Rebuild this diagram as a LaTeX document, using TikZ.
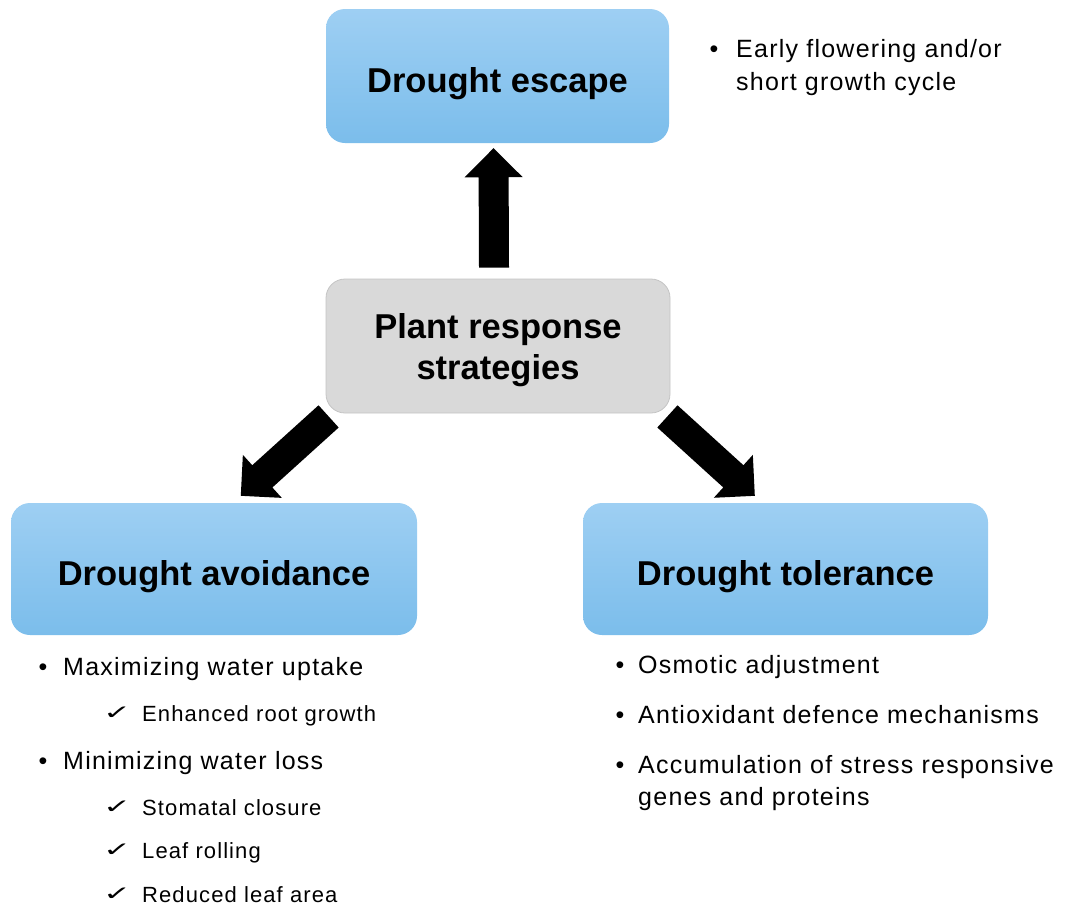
\documentclass[tikz,border=0pt]{standalone}
\usepackage{fontspec}
\setmainfont{Liberation Sans}
\newfontfamily\symfont{DejaVu Sans}
\newfontfamily\listfont[LetterSpace=5]{Liberation Sans}
\usetikzlibrary{calc}

\definecolor{boxtop}{HTML}{9ECFF3}
\definecolor{boxbot}{HTML}{7BBDEB}
\definecolor{greyfill}{HTML}{D9D9D9}
\definecolor{greyline}{HTML}{C4C4C4}

\tikzset{
  bluebox/.style={rounded corners=19pt, inner sep=0pt, top color=boxtop,
    bottom color=boxbot, draw=none},
  greybox/.style={rounded corners=19pt, inner sep=0pt, fill=greyfill,
    draw=greyline, line width=0.8pt},
  title/.style={inner sep=0pt, font=\bfseries\fontsize{34.5}{41}\selectfont},
  item/.style={anchor=base west, inner sep=0pt, font=\listfont\fontsize{25}{30}\selectfont},
  subitem/.style={anchor=base west, inner sep=0pt, font=\listfont\fontsize{22}{26}\selectfont},
  bul/.style={anchor=base, inner sep=0pt, font=\fontsize{25}{30}\selectfont},
  chk/.style={anchor=base west, inner sep=0pt, font=\symfont\fontsize{21}{24}\selectfont},
  fatarrow/.style={fill=black},
}

% block arrow from a tail point to a tip point:
% shaft 30pt wide, head 58pt wide and 29pt long
\newcommand\blockarrow[3]{%
  \coordinate (#3-h) at ($(#2)!29pt!(#1)$);
  \fill[fatarrow]
    ($(#1)!15pt!90:(#2)$) -- ($(#3-h)!15pt!-90:(#1)$) --
    ($(#3-h)!29pt!-90:(#1)$) -- (#2) --
    ($(#3-h)!29pt!90:(#1)$) -- ($(#3-h)!15pt!90:(#1)$) --
    ($(#1)!15pt!-90:(#2)$) -- cycle;
}

\newcommand\tick{\raisebox{2pt}{\scalebox{1.6}[0.95]{✓}}}

\begin{document}
\begin{tikzpicture}[x=1pt,y=-1pt]
\useasboundingbox (0,0) rectangle (1065,906);

% boxes
\node[bluebox, minimum width=343pt, minimum height=134pt] (escape) at (497.5,76) {};
\node[greybox, minimum width=344pt, minimum height=134pt] (plant) at (498,346) {};
\node[bluebox, minimum width=406pt, minimum height=132pt] (avoid) at (214,569) {};
\node[bluebox, minimum width=405pt, minimum height=132pt] (toler) at (785.5,569) {};

% box titles
\node[title, anchor=base] (escapeT) at ([yshift=-16pt]escape.center) {Drought escape};
\node[title, align=center] (plantT) at ([yshift=-4.5pt]plant.center) {Plant response\\strategies};
\node[title, anchor=base] (avoidT) at ([yshift=-16pt]avoid.center) {Drought avoidance};
\node[title, anchor=base] (tolerT) at ([yshift=-16pt]toler.center) {Drought tolerance};

% arrows from the central box to the three strategies
\coordinate (upTail) at ([xshift=-4pt,yshift=11pt]plant.north);
\coordinate (upTip) at ([xshift=-4pt,yshift=-5pt]escape.south);
\coordinate (leftTail) at ([xshift=3pt,yshift=-3pt]plant.south west);
\coordinate (leftTip) at ([xshift=230pt,yshift=7pt]avoid.north west);
\coordinate (rightTail) at ([xshift=-3pt,yshift=-3pt]plant.south east);
\coordinate (rightTip) at ([xshift=172pt,yshift=7pt]toler.north west);
\blockarrow{upTail}{upTip}{up}
\blockarrow{leftTail}{leftTip}{left}
\blockarrow{rightTail}{rightTip}{right}

% escape notes
\node[bul] (eb1) at (714,57) {•};
\node[item] (e1) at (736,57) {Early flowering and/or};
\node[item] (e2) at (736,90) {short growth cycle};

% avoidance notes
\node[bul] (ab1) at (43,675) {•};
\node[item] (a1) at (63,675) {Maximizing water uptake};
\node[chk] (ac1) at (103,721) {\tick};
\node[subitem] (a11) at (142,721) {Enhanced root growth};
\node[bul] (ab2) at (43,769) {•};
\node[item] (a2) at (63,769) {Minimizing water loss};
\node[chk] (ac2) at (103,815) {\tick};
\node[subitem] (a21) at (142,815) {Stomatal closure};
\node[chk] (ac3) at (103,858) {\tick};
\node[subitem] (a22) at (142,858) {Leaf rolling};
\node[chk] (ac4) at (103,902) {\tick};
\node[subitem] (a23) at (142,902) {Reduced leaf area};

% tolerance notes
\node[bul] (tb1) at (620,673) {•};
\node[item] (t1) at (638,673) {Osmotic adjustment};
\node[bul] (tb2) at (620,723) {•};
\node[item] (t2) at (638,723) {Antioxidant defence mechanisms};
\node[bul] (tb3) at (620,773) {•};
\node[item] (t3) at (638,773) {Accumulation of stress responsive};
\node[item] (t4) at (638,805) {genes and proteins};
\end{tikzpicture}
\end{document}
